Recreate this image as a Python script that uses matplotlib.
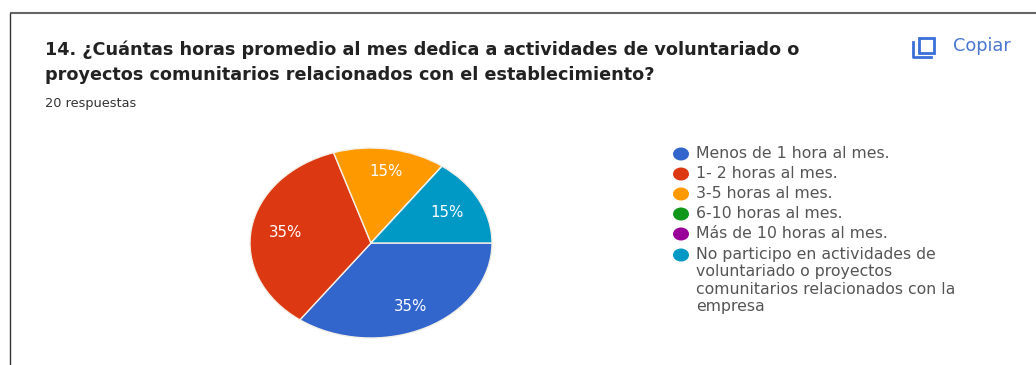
import matplotlib
matplotlib.use("Agg")
import matplotlib.pyplot as plt
from matplotlib.patches import Ellipse, Rectangle

W, H = 1036, 365

categories = [
    "Menos de 1 hora al mes.",
    "1- 2 horas al mes.",
    "3-5 horas al mes.",
    "6-10 horas al mes.",
    "Más de 10 horas al mes.",
    "No participo en actividades de\nvoluntariado o proyectos\ncomunitarios relacionados con la\nempresa",
]
shares = [35, 35, 15, 0, 0, 15]
colors = ["#3366cc", "#dc3912", "#ff9900", "#109618", "#990099", "#0099c6"]
legend_y = [154, 174, 194, 214, 234, 255]
question = [
    "14. ¿Cuántas horas promedio al mes dedica a actividades de voluntariado o",
    "proyectos comunitarios relacionados con el establecimiento?",
]
answers = "20 respuestas"
copy_label = "Copiar"

fig = plt.figure(figsize=(W / 100, H / 100), dpi=100, facecolor="white")

# Full-figure overlay in pixel coordinates for the card, text and legend
ov = fig.add_axes([0, 0, 1, 1])
ov.set_xlim(0, W)
ov.set_ylim(H, 0)
ov.axis("off")

ov.plot([10, W], [13, 13], color="#666666", lw=1.5, solid_capstyle="butt")
ov.plot([10, 10], [12.5, H], color="#333333", lw=1.0, solid_capstyle="butt")

title_font = dict(family="DejaVu Sans", fontweight="bold", fontsize=12.73, color="#222222")
ov.text(45, 50, question[0], va="center", ha="left", **title_font)
ov.text(45, 75, question[1], va="center", ha="left", **title_font)
ov.text(45, 104, answers, va="center", ha="left", family="DejaVu Sans",
        fontsize=9.3, color="#333333")

# Copy icon
ov.add_patch(Rectangle((919, 38), 15, 15, fill=False, ec="#3a6fd8", lw=2.0))
ov.plot([913, 913, 931], [42, 57, 57], color="#3a6fd8", lw=2.0)
ov.text(953, 46, copy_label, va="center", ha="left", family="DejaVu Sans",
        fontsize=12.8, color="#4a78d0")

# Legend markers and labels
for label, color, y in zip(categories, colors, legend_y):
    ov.add_patch(Ellipse((681, y), 16, 13, color=color, lw=0))
    multiline = "\n" in label
    ov.text(696, y - 8 if multiline else y - 1, label,
            va="top" if multiline else "center", ha="left",
            family="DejaVu Sans", fontsize=11.3, color="#555555", linespacing=1.2)

# Pie stretched horizontally, running clockwise from three o'clock
left, right, top, bottom = 250, 492, 148, 338
ax = fig.add_axes([left / W, 1 - bottom / H, (right - left) / W, (bottom - top) / H])
wedges, _ = ax.pie(
    shares, colors=colors, startangle=0, counterclock=False, radius=1,
    wedgeprops=dict(edgecolor="#f4f0e8", linewidth=1.0),
)
ax.set_aspect("auto")
ax.set_xlim(-1, 1)
ax.set_ylim(-1, 1)

# Percentage labels placed through the pie's own coordinates
label_pos = {0: (0.33, -0.67), 1: (-0.71, 0.11), 2: (0.12, 0.75), 5: (0.63, 0.32)}
for i, (x, y) in label_pos.items():
    ax.text(x, y, f"{shares[i]}%", ha="center", va="center", color="white",
            family="DejaVu Sans", fontsize=10.8)

fig.savefig("out.png", dpi=100, facecolor="white")
